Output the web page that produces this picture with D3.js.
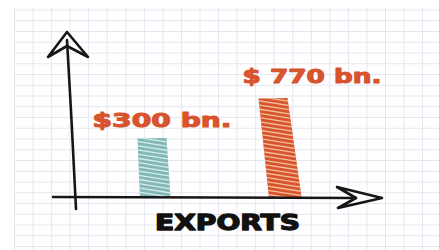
<!DOCTYPE html>
<html>
<head>
<meta charset="utf-8">
<script src="https://cdn.jsdelivr.net/npm/d3@7"></script>
<style>
  html, body { margin: 0; padding: 0; background: #fff; }
  svg { display: block; }
</style>
</head>
<body>
<svg id="chart" width="439" height="250"></svg>
<script>
// ---- data ----
const categories = ["Before", "After"];
const values = [300, 770];
const valueLabels = ["$300 bn.", "$ 770 bn."];
const axisTitle = "EXPORTS";

// ---- layout / style ----
const W = 439, H = 250;
const barColors = ["#82b9ba", "#d9572f"];
const stripeColors = ["#e4f2f2", "#f6cfae"];
const labelColor = "#d8542e";
const gridColor = "#e6e6f2";
const inkColor = "#161616";
const baseY = 197;

const svg = d3.select("#chart");
svg.append("rect").attr("width", W).attr("height", H).attr("fill", "#fff");

// grid paper
const grid = svg.append("g");
d3.range(14.5, W, 18.55).forEach(x => {
  grid.append("line").attr("x1", x).attr("x2", x).attr("y1", 8).attr("y2", H)
    .attr("stroke", gridColor).attr("stroke-width", 1);
});
d3.range(10, H, 10.75).forEach(y => {
  grid.append("line").attr("x1", 14).attr("x2", W).attr("y1", y).attr("y2", y)
    .attr("stroke", gridColor).attr("stroke-width", 1);
});

// scales
const x = d3.scalePoint().domain(categories).range([153, 279]);
const y = d3.scalePow().exponent(0.55).domain([0, 800]).range([baseY, 95.8]);

const barW = 31;
const skewBottom = [4, 9];   // hand-drawn lean of each bar (bottom right offset)
const skewTop = [0, -5];

const defs = svg.append("defs");
const bars = svg.append("g");
categories.forEach((c, i) => {
  const cx = x(c);
  const top = y(values[i]);
  const pts = [
    [cx - barW / 2 + skewTop[i], top + 0.5],
    [cx + barW / 2 + skewTop[i] - 2, top],
    [cx + barW / 2 + skewBottom[i] - 2, baseY],
    [cx - barW / 2 + skewBottom[i] * 0.6, baseY]
  ];
  const id = "clip" + i;
  defs.append("clipPath").attr("id", id)
    .append("polygon").attr("points", pts.map(p => p.join(",")).join(" "));
  bars.append("polygon").attr("points", pts.map(p => p.join(",")).join(" "))
    .attr("fill", barColors[i]);
  const g = bars.append("g").attr("clip-path", `url(#${id})`);
  for (let yy = top - 10; yy < baseY + 5; yy += 4.2) {
    g.append("line")
      .attr("x1", cx - barW / 2 - 6).attr("y1", yy)
      .attr("x2", cx + barW / 2 + 14).attr("y2", yy + 8)
      .attr("stroke", stripeColors[i]).attr("stroke-width", 1.3)
      .attr("opacity", 0.9);
  }
});

// value labels
const labelOffsets = [9, 33];
const labelGaps = [11, 15];
categories.forEach((c, i) => {
  svg.append("text")
    .attr("x", x(c) + labelOffsets[i])
    .attr("y", y(values[i]) - labelGaps[i])
    .attr("text-anchor", "middle")
    .attr("font-family", "'DejaVu Sans', sans-serif")
    .attr("font-weight", "bold")
    .attr("font-size", 20)
    .attr("textLength", 139)
    .attr("lengthAdjust", "spacingAndGlyphs")
    .attr("fill", labelColor)
    .attr("stroke", labelColor)
    .attr("stroke-width", 1.1)
    .attr("stroke-linejoin", "round")
    .text(valueLabels[i]);
});

// axes (hand drawn)
const ink = svg.append("g").attr("fill", "none").attr("stroke", inkColor)
  .attr("stroke-width", 2.6).attr("stroke-linecap", "round").attr("stroke-linejoin", "round");
ink.append("path").attr("d", `M76,209 L71.5,120 L67,40`);
ink.append("path").attr("d", `M67,32 L48,57 L67,46 L88,57 Z`);
ink.append("path").attr("d", `M53,${baseY} L220,${baseY + 0.5} L356,${baseY + 1}`);
ink.append("path").attr("d", `M382,198 L337,187 L356,198 L338,208 Z`);

// axis title
svg.append("text")
  .attr("x", 227.5).attr("y", 230)
  .attr("text-anchor", "middle")
  .attr("font-family", "'DejaVu Sans', sans-serif")
  .attr("font-weight", "bold")
  .attr("font-size", 21)
  .attr("textLength", 145)
  .attr("lengthAdjust", "spacingAndGlyphs")
  .attr("fill", "#111")
  .attr("stroke", "#111")
  .attr("stroke-width", 1.3)
  .attr("stroke-linejoin", "round")
  .text(axisTitle);
</script>
</body>
</html>
